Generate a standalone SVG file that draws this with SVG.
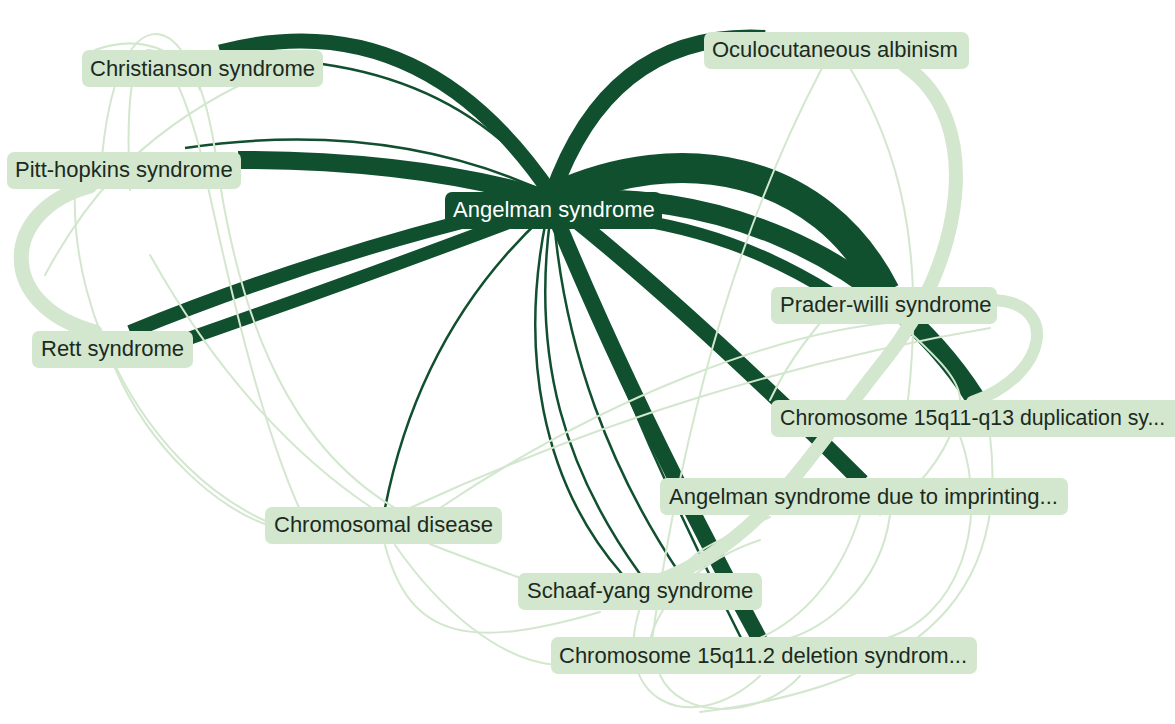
<svg xmlns="http://www.w3.org/2000/svg" width="1175" height="724" viewBox="0 0 1175 724">
<style>
.bg{fill:#ffffff}
.d{fill:none;stroke:#10502f;stroke-linecap:butt}
.l{fill:none;stroke:#d3e7cf;stroke-linecap:round}
.n rect{fill:#d3e7cf}
.n text{font-family:"Liberation Sans",Arial,sans-serif;font-size:22px;fill:#1c2a1e}
.c rect{fill:#10502f}
.c text{font-family:"Liberation Sans",Arial,sans-serif;font-size:22px;fill:#ffffff}
</style>
<rect class="bg" x="0" y="0" width="1175" height="724"/>
<g id="connectors">
  <!-- dark edges from Angelman syndrome -->
  <path class="d" stroke-width="15" d="M 220 52 Q 420 0 552 195"/>
  <path class="d" stroke-width="2.5" d="M 322 64 Q 470 85 552 195"/>
  <path class="d" stroke-width="16" d="M 552 195 Q 610 30 765 38"/>
  <path class="d" stroke-width="18" d="M 238 160 Q 420 160 552 200"/>
  <path class="d" stroke-width="2.5" d="M 185 148 Q 390 118 552 195"/>
  <path class="d" stroke-width="14" d="M 130 332 Q 330 250 552 200"/>
  <path class="d" stroke-width="13" d="M 190 338 Q 390 268 552 206"/>
  <path class="d" stroke-width="30" d="M 555 197 C 680 140, 820 165, 885 292"/>
  <path class="d" stroke-width="20" d="M 560 203 C 700 185, 880 250, 975 398"/>
  <path class="d" stroke-width="12" d="M 600 215 C 700 225, 770 255, 830 292"/>
  <path class="d" stroke-width="2.5" d="M 560 210 Q 720 320 778 405"/>
  <path class="d" stroke-width="16" d="M 572 217 Q 700 320 862 482"/>
  <path class="d" stroke-width="16" d="M 556 218 Q 640 420 760 640"/>
  <path class="d" stroke-width="2.5" d="M 560 225 Q 640 440 742 640"/>
  <path class="d" stroke-width="2.5" d="M 546 220 C 520 350, 540 480, 622 574"/>
  <path class="d" stroke-width="2.5" d="M 550 220 C 532 360, 565 470, 640 574"/>
  <path class="d" stroke-width="2.5" d="M 554 220 C 565 350, 610 470, 680 574"/>
  <path class="d" stroke-width="2.5" d="M 545 215 Q 420 330 385 508"/>
  <!-- light edges -->
  <path class="l" stroke-width="15" d="M 90 186 C 0 210, -5 305, 95 332"/>
  <path class="l" stroke-width="14" d="M 905 66 C 985 120, 965 260, 885 360 S 760 545 655 582"/>
  <path class="l" stroke-width="12" d="M 990 300 C 1060 300, 1050 375, 972 402"/>
  <path class="l" stroke-width="2" d="M 100 185 C 110 -10, 190 -10, 215 150 C 235 300, 280 440, 395 508"/>
  <path class="l" stroke-width="2" d="M 130 190 C 120 0, 165 20, 200 150 C 230 290, 260 420, 300 510"/>
  <path class="l" stroke-width="2" d="M 95 50 C 150 30, 190 60, 200 90"/>
  <path class="l" stroke-width="2" d="M 240 85 C 130 140, 80 210, 45 275"/>
  <path class="l" stroke-width="2" d="M 75 190 C 70 320, 150 470, 268 522"/>
  <path class="l" stroke-width="2" d="M 115 368 C 150 450, 220 510, 268 525"/>
  <path class="l" stroke-width="2" d="M 150 255 C 220 380, 300 460, 372 508"/>
  <path class="l" stroke-width="2" d="M 440 508 C 600 400, 780 330, 900 322"/>
  <path class="l" stroke-width="2" d="M 410 508 C 600 420, 800 360, 990 328"/>
  <path class="l" stroke-width="2" d="M 822 68 Q 700 300 652 640"/>
  <path class="l" stroke-width="2" d="M 850 68 C 900 150, 925 250, 908 400"/>
  <path class="l" stroke-width="2" d="M 385 545 C 410 640, 470 650, 600 612"/>
  <path class="l" stroke-width="2" d="M 395 545 C 440 610, 500 660, 555 665"/>
  <path class="l" stroke-width="2" d="M 430 544 C 470 560, 500 570, 520 578"/>
  <path class="l" stroke-width="2" d="M 640 608 C 610 700, 690 740, 760 676"/>
  <path class="l" stroke-width="2" d="M 660 675 C 680 720, 760 720, 800 676"/>
  <path class="l" stroke-width="2" d="M 960 436 C 990 520, 960 620, 880 640"/>
  <path class="l" stroke-width="2" d="M 990 436 C 1005 560, 960 680, 700 712"/>
  <path class="l" stroke-width="2" d="M 860 515 C 840 580, 800 620, 760 638"/>
  <path class="l" stroke-width="2" d="M 890 515 C 880 590, 820 630, 790 638"/>
  <path class="l" stroke-width="2" d="M 950 436 C 930 480, 900 500, 880 515"/>
  <path class="l" stroke-width="2" d="M 900 323 C 940 360, 960 380, 960 400"/>
  <path class="l" stroke-width="2" d="M 820 323 C 790 360, 780 380, 770 400"/>
  <path class="l" stroke-width="2" d="M 760 540 C 700 560, 660 600, 650 640"/>
  <path class="l" stroke-width="2" d="M 770 517 C 720 540, 690 550, 680 574"/>
</g>
<g id="node-christianson" class="n"><rect x="82" y="50" width="241" height="37" rx="7"/><text x="90" y="76">Christianson syndrome</text></g>
<g id="node-oculocutaneous" class="n"><rect x="704" y="32" width="265" height="37" rx="7"/><text x="712" y="57">Oculocutaneous albinism</text></g>
<g id="node-pitt-hopkins" class="n"><rect x="7" y="152" width="234" height="37" rx="7"/><text x="15" y="177">Pitt-hopkins syndrome</text></g>
<g id="node-angelman" class="c"><rect x="445" y="192" width="217" height="37" rx="7"/><text x="453" y="217">Angelman syndrome</text></g>
<g id="node-rett" class="n"><rect x="32" y="331" width="161" height="37" rx="7"/><text x="41" y="356">Rett syndrome</text></g>
<g id="node-prader-willi" class="n"><rect x="771" y="287" width="226" height="37" rx="7"/><text x="780" y="312">Prader-willi syndrome</text></g>
<g id="node-dup" class="n"><rect x="771" y="400" width="410" height="37" rx="7"/><text x="780" y="425" style="font-size:21.3px">Chromosome 15q11-q13 duplication sy...</text></g>
<g id="node-imprinting" class="n"><rect x="660" y="478" width="408" height="37" rx="7"/><text x="669" y="504">Angelman syndrome due to imprinting...</text></g>
<g id="node-chromosomal" class="n"><rect x="265" y="507" width="237" height="37" rx="7"/><text x="274" y="532">Chromosomal disease</text></g>
<g id="node-schaaf-yang" class="n"><rect x="518" y="573" width="244" height="37" rx="7"/><text x="527" y="598">Schaaf-yang syndrome</text></g>
<g id="node-deletion" class="n"><rect x="551" y="637" width="426" height="37" rx="7"/><text x="559" y="663">Chromosome 15q11.2 deletion syndrom...</text></g>
</svg>
